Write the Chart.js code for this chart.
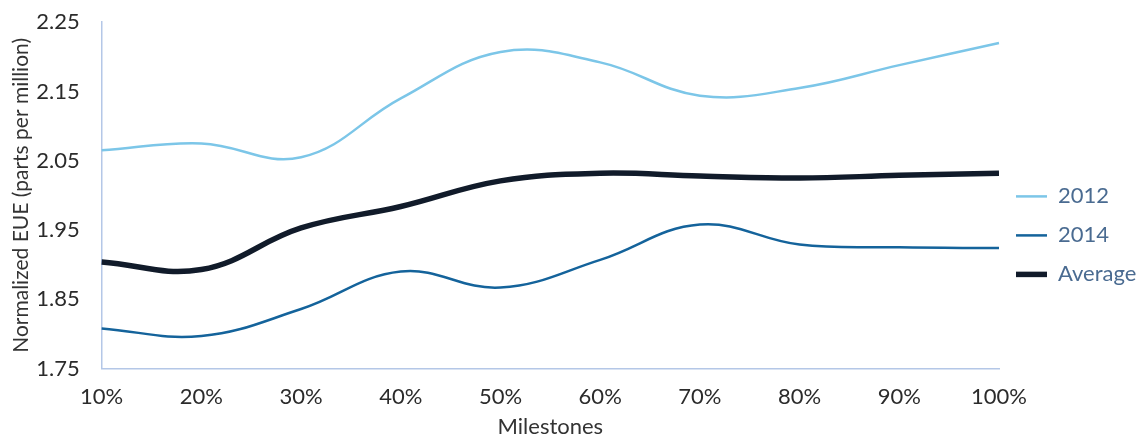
<!DOCTYPE html>
<html>
<head>
<meta charset="utf-8">
<script src="https://cdn.jsdelivr.net/npm/chart.js@4.4.1/dist/chart.umd.min.js"></script>
<style>
  html, body { margin: 0; padding: 0; background: #fff; }
  #wrap { width: 1139px; height: 438px; }
</style>
</head>
<body>
<div id="wrap"><canvas id="canvasEue"></canvas></div>
<script>
// chart data
var milestones = ["10%", "20%", "30%", "40%", "50%", "60%", "70%", "80%", "90%", "100%"];
var eue2012 = [2.065, 2.075, 2.055, 2.140, 2.207, 2.192, 2.144, 2.155, 2.188, 2.220];
var eue2014 = [1.808, 1.797, 1.836, 1.890, 1.867, 1.907, 1.958, 1.929, 1.925, 1.924];
var eueAverage = [1.904, 1.893, 1.953, 1.984, 2.021, 2.032, 2.028, 2.025, 2.029, 2.032];

var go = {};
go.font = "Lato, 'Open Sans', sans-serif";
go.axisColor = "#b4c7e7";

document.addEventListener("DOMContentLoaded", main);

function makeSet(label, values, color, width) {
    return {
        label: label,
        data: values,
        borderColor: color,
        backgroundColor: color,
        borderWidth: width,
        pointRadius: 0,
        tension: 0.4,
        fill: false
    };
}

function main() {
    var ctx = document.getElementById("canvasEue").getContext("2d");

    var config = {
        type: "line",
        data: {
            labels: milestones,
            datasets: [
                makeSet("2012", eue2012, "#7cc6e8", 2.5),
                makeSet("2014", eue2014, "#14639b", 2.5),
                makeSet("Average", eueAverage, "#111b2a", 5.5)
            ]
        },
        options: {
            responsive: true,
            maintainAspectRatio: false,
            animation: false,
            layout: { padding: { top: 0, right: 0, bottom: 0, left: 4 } },
            plugins: {
                tooltip: { enabled: false },
                legend: {
                    position: "right",
                    align: "start",
                    maxWidth: 140,
                    // empty title only pushes the items down
                    title: {
                        display: true,
                        text: " ",
                        padding: { top: 79, bottom: 63 },
                        font: { family: go.font, size: 22 }
                    },
                    labels: {
                        usePointStyle: true,
                        pointStyle: "line",
                        pointStyleWidth: 31,
                        padding: 17,
                        color: "#4a6b91",
                        font: { family: go.font, size: 22 }
                    }
                }
            },
            scales: {
                x: {
                    // grid hidden, tick length only spaces the labels
                    grid: { display: false, drawTicks: true, tickLength: 10 },
                    border: { display: true, color: go.axisColor, width: 1.5 },
                    ticks: {
                        color: "#2b2b2b",
                        padding: 5,
                        maxRotation: 0,
                        font: { family: go.font, size: 22 }
                    },
                    title: {
                        display: true,
                        text: "Milestones",
                        color: "#333",
                        padding: { top: 1, bottom: 0 },
                        font: { family: go.font, size: 22, lineHeight: 1 }
                    }
                },
                y: {
                    min: 1.75,
                    max: 2.25,
                    grid: { display: false, drawTicks: true, tickLength: 13 },
                    border: { display: true, color: go.axisColor, width: 1.5 },
                    ticks: {
                        stepSize: 0.1,
                        color: "#2b2b2b",
                        padding: 9,
                        font: { family: go.font, size: 22 },
                        callback: function (v) { return Number(v).toFixed(2); }
                    },
                    title: {
                        display: true,
                        text: "Normalized EUE (parts per million)",
                        color: "#333",
                        padding: { top: 5, bottom: -7 },
                        font: { family: go.font, size: 21 }
                    }
                }
            }
        }
    };

    go.chart = new Chart(ctx, config);
}
</script>
</body>
</html>
